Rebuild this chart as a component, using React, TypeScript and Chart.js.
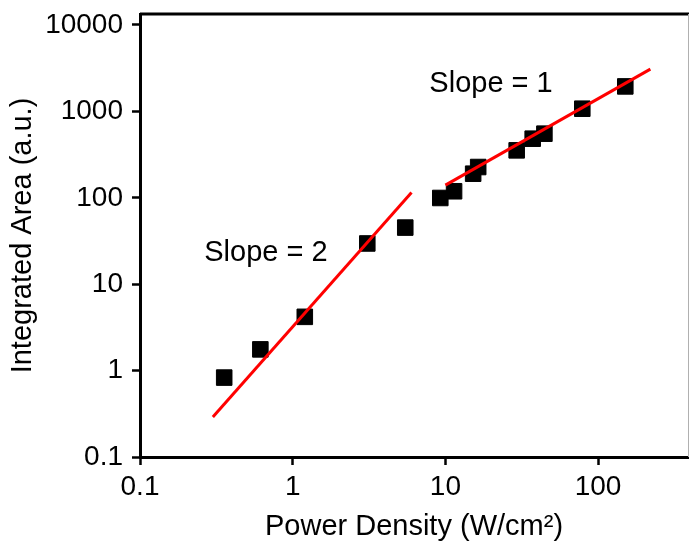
import React, { useEffect, useRef } from 'react';
import { Chart, registerables } from 'chart.js';

Chart.register(...registerables);

// Measured data (Power Density in W/cm^2, Integrated Area in a.u.)
const powerDensity = [0.356, 0.614, 1.2, 3.08, 5.46, 9.26, 11.4, 15.2, 16.4, 29.3, 37.3, 44.5, 78.8, 150.7];
const integratedArea = [0.83, 1.76, 4.19, 29.6, 45.2, 99.5, 119, 190, 227, 354, 483, 552, 1074, 1945];

// Fit lines (end points)
const slope2X = [0.3, 6.0];
const slope2Y = [0.29, 115];
const slope1X = [10, 220];
const slope1Y = [140, 3080];

// Axis ranges
const xRange = [0.1, 388];
const yRange = [0.1, 13400];

// Annotation labels
const annotationTexts = ['Slope = 2', 'Slope = 1'];
const annotationX = [0.668, 19.9];
const annotationY = [22.8, 2050];

const FONT = "'Liberation Sans', Arial, Helvetica, sans-serif";

function isMajor(v: number): boolean {
  const l = Math.log10(v);
  return Math.abs(l - Math.round(l)) < 1e-6;
}
function isNiceMinor(v: number): boolean {
  const p = Math.pow(10, Math.floor(Math.log10(v) + 1e-9));
  const s = v / p;
  return Math.abs(s - Math.round(s)) < 1e-6 && !isMajor(v);
}

const decorPlugin = {
  id: 'decor',
  afterDraw(chart: any) {
    const { ctx, chartArea: a, scales } = chart;
    const x = scales.x;
    const y = scales.y;
    ctx.save();
    ctx.strokeStyle = '#000';
    ctx.lineWidth = 2;
    x.ticks.forEach((t: any) => {
      if (isNiceMinor(t.value)) {
        const px = Math.round(x.getPixelForValue(t.value)) + 0.5;
        ctx.beginPath();
        ctx.moveTo(px, a.bottom);
        ctx.lineTo(px, a.bottom + 4);
        ctx.stroke();
      }
    });
    y.ticks.forEach((t: any) => {
      if (isNiceMinor(t.value)) {
        const py = Math.round(y.getPixelForValue(t.value)) + 0.5;
        ctx.beginPath();
        ctx.moveTo(a.left, py);
        ctx.lineTo(a.left - 4, py);
        ctx.stroke();
      }
    });
    // top border
    ctx.lineWidth = 3;
    ctx.beginPath();
    ctx.moveTo(a.left, a.top);
    ctx.lineTo(a.right + 1, a.top);
    ctx.stroke();
    // right border (thin grey)
    ctx.strokeStyle = '#b0b0b0';
    ctx.lineWidth = 1;
    ctx.beginPath();
    ctx.moveTo(a.right + 0.5, a.top);
    ctx.lineTo(a.right + 0.5, a.bottom);
    ctx.stroke();
    // annotations
    ctx.fillStyle = '#000';
    ctx.font = `29px ${FONT}`;
    ctx.textAlign = 'center';
    ctx.textBaseline = 'middle';
    annotationTexts.forEach((txt, i) => {
      ctx.fillText(txt, x.getPixelForValue(annotationX[i]), y.getPixelForValue(annotationY[i]));
    });
    ctx.restore();
  },
};

function zeroPad(s: any) {
  s.paddingLeft = 0;
  s.paddingRight = 0;
  s.paddingTop = 0;
  s.paddingBottom = 0;
}

export default function App() {
  const ref = useRef<HTMLCanvasElement | null>(null);
  useEffect(() => {
    const prevMargin = document.body.style.margin;
    document.body.style.margin = '0';
    const canvas = ref.current;
    if (!canvas) return;
    const points = powerDensity.map((v, i) => ({ x: v, y: integratedArea[i] }));
    const line2 = slope2X.map((v, i) => ({ x: v, y: slope2Y[i] }));
    const line1 = slope1X.map((v, i) => ({ x: v, y: slope1Y[i] }));
    const tickCb = (v: any) => (isMajor(Number(v)) ? String(Number(v)) : null);
    const chart = new Chart(canvas, {
      type: 'scatter',
      data: {
        datasets: [
          {
            type: 'line',
            data: line2,
            borderColor: '#ff0000',
            borderWidth: 3,
            pointRadius: 0,
            showLine: true,
            fill: false,
          },
          {
            type: 'line',
            data: line1,
            borderColor: '#ff0000',
            borderWidth: 3,
            pointRadius: 0,
            showLine: true,
            fill: false,
          },
          {
            data: points,
            pointStyle: 'rect',
            pointRadius: 11,
            pointBackgroundColor: '#000',
            pointBorderColor: '#000',
            pointBorderWidth: 1,
            showLine: false,
          },
        ],
      } as any,
      options: {
        responsive: false,
        animation: false,
        layout: { autoPadding: false, padding: { top: 14, right: 1, left: 0, bottom: 0 } },
        plugins: { legend: { display: false }, tooltip: { enabled: false } },
        scales: {
          x: {
            type: 'logarithmic',
            min: xRange[0],
            max: xRange[1],
            afterFit: (s: any) => {
              s.height = 87;
              zeroPad(s);
            },
            border: { display: true, color: '#000', width: 3 },
            grid: {
              display: true,
              drawOnChartArea: false,
              drawTicks: true,
              tickLength: 8,
              tickWidth: 2.5,
              tickColor: (c: any) => (c.tick && isMajor(c.tick.value) ? '#000' : 'rgba(0,0,0,0)'),
              color: 'rgba(0,0,0,0)',
            },
            ticks: {
              autoSkip: false,
              maxRotation: 0,
              padding: 5,
              color: '#000',
              font: { family: FONT, size: 28 },
              callback: tickCb,
            },
            title: {
              display: true,
              text: 'Power Density (W/cm²)',
              color: '#000',
              font: { family: FONT, size: 29 },
              padding: { top: 0, bottom: 0 },
            },
          },
          y: {
            type: 'logarithmic',
            min: yRange[0],
            max: yRange[1],
            afterFit: (s: any) => {
              s.width = 140;
              zeroPad(s);
            },
            border: { display: true, color: '#000', width: 3 },
            grid: {
              display: true,
              drawOnChartArea: false,
              drawTicks: true,
              tickLength: 8,
              tickWidth: 2.5,
              tickColor: (c: any) => (c.tick && isMajor(c.tick.value) ? '#000' : 'rgba(0,0,0,0)'),
              color: 'rgba(0,0,0,0)',
            },
            ticks: {
              autoSkip: false,
              padding: 9,
              color: '#000',
              font: { family: FONT, size: 28 },
              callback: tickCb,
            },
            title: {
              display: true,
              text: 'Integrated Area (a.u.)',
              color: '#000',
              font: { family: FONT, size: 29 },
              padding: { top: 6, bottom: 0 },
            },
          },
        },
      } as any,
      plugins: [decorPlugin],
    });
    return () => {
      chart.destroy();
      document.body.style.margin = prevMargin;
    };
  }, []);
  return (
    <div style={{ position: 'absolute', left: 0, top: 0, width: 689, height: 544, background: '#fff' }}>
      <canvas ref={ref} width={689} height={544} style={{ display: 'block', width: 689, height: 544 }} />
    </div>
  );
}
